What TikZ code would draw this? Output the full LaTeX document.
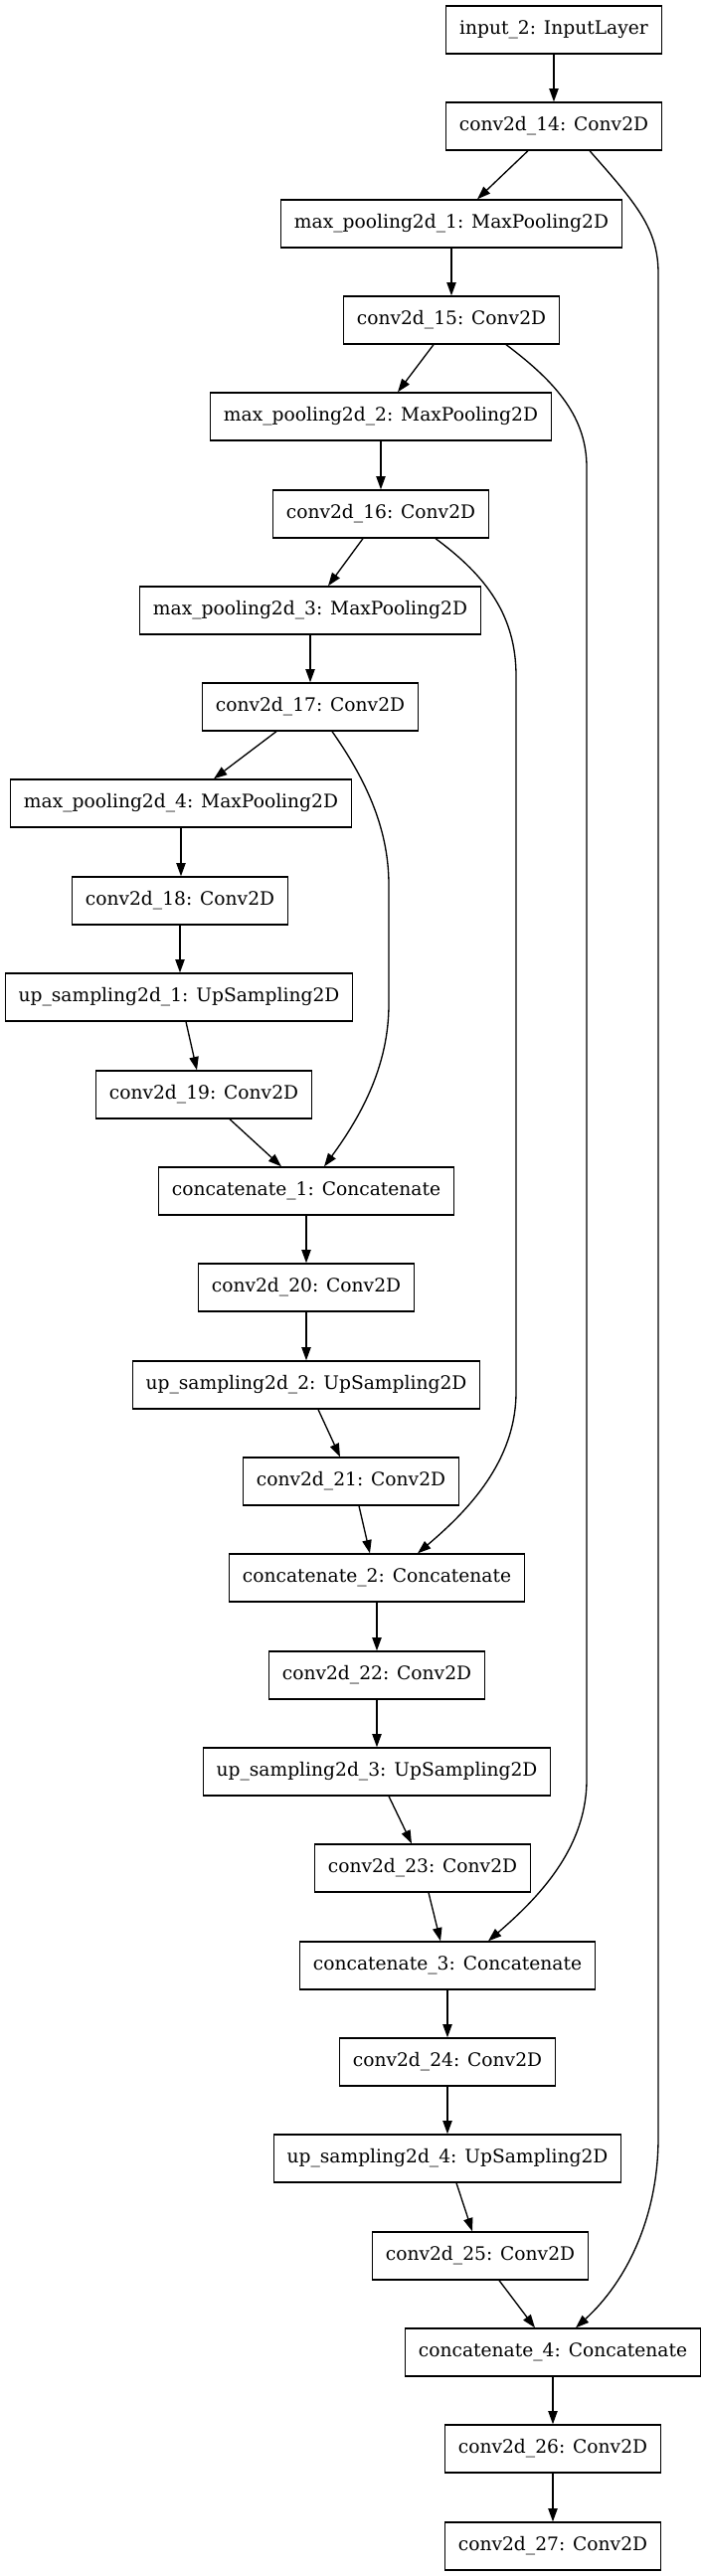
\documentclass[tikz,border=0pt]{standalone}
\usepackage{fontspec}
\setmainfont{DejaVu Serif}
\usetikzlibrary{arrows.meta,calc}

\begin{document}
\begin{tikzpicture}[x=0.75pt,y=-0.75pt,
    layer/.style={draw,line width=1pt,rectangle,minimum height=36pt,inner xsep=10pt,
      font=\fontsize{14pt}{17pt}\selectfont},
    edge/.style={line width=1pt,-{Triangle[length=10pt,width=7pt]}}]
    \useasboundingbox (0,0) rectangle (706,2591);
    % encoder
    \node[layer] (in1) at (557,30) {input\_2: InputLayer};
    \node[layer] (c14) at (557,127) {conv2d\_14: Conv2D};
    \node[layer] (mp1) at (454,225) {max\_pooling2d\_1: MaxPooling2D};
    \node[layer] (c15) at (454,322) {conv2d\_15: Conv2D};
    \node[layer] (mp2) at (383,419) {max\_pooling2d\_2: MaxPooling2D};
    \node[layer] (c16) at (383,517) {conv2d\_16: Conv2D};
    \node[layer] (mp3) at (312,614) {max\_pooling2d\_3: MaxPooling2D};
    \node[layer] (c17) at (312,711) {conv2d\_17: Conv2D};
    \node[layer] (mp4) at (182,808) {max\_pooling2d\_4: MaxPooling2D};
    \node[layer] (c18) at (181,906) {conv2d\_18: Conv2D};
    % decoder
    \node[layer] (up1) at (180,1003) {up\_sampling2d\_1: UpSampling2D};
    \node[layer] (c19) at (205,1101) {conv2d\_19: Conv2D};
    \node[layer] (cat1) at (308,1198) {concatenate\_1: Concatenate};
    \node[layer] (c20) at (308,1295) {conv2d\_20: Conv2D};
    \node[layer] (up2) at (308,1393) {up\_sampling2d\_2: UpSampling2D};
    \node[layer] (c21) at (353,1490) {conv2d\_21: Conv2D};
    \node[layer] (cat2) at (379,1587) {concatenate\_2: Concatenate};
    \node[layer] (c22) at (379,1685) {conv2d\_22: Conv2D};
    \node[layer] (up3) at (379,1782) {up\_sampling2d\_3: UpSampling2D};
    \node[layer] (c23) at (425,1879) {conv2d\_23: Conv2D};
    \node[layer] (cat3) at (450,1977) {concatenate\_3: Concatenate};
    \node[layer] (c24) at (450,2074) {conv2d\_24: Conv2D};
    \node[layer] (up4) at (450,2171) {up\_sampling2d\_4: UpSampling2D};
    \node[layer] (c25) at (483,2269) {conv2d\_25: Conv2D};
    \node[layer] (cat4) at (556,2366) {concatenate\_4: Concatenate};
    \node[layer] (c26) at (556,2463) {conv2d\_26: Conv2D};
    \node[layer] (c27) at (556,2561) {conv2d\_27: Conv2D};

    % main chain
    \draw[edge] (in1.south) -- (c14.south |- in1.south) -- (c14.north);
    \draw[edge] ($(c14.south)+(-26,0)$) -- ($(mp1.north)+(26,0)$);
    \draw[edge] (mp1.south) -- (c15.north);
    \draw[edge] ($(c15.south)+(-18,0)$) -- ($(mp2.north)+(17,0)$);
    \draw[edge] (mp2.south) -- (c16.north);
    \draw[edge] ($(c16.south)+(-18,0)$) -- ($(mp3.north)+(18,0)$);
    \draw[edge] (mp3.south) -- (c17.north);
    \draw[edge] ($(c17.south)+(-34,0)$) -- ($(mp4.north)+(33,0)$);
    \draw[edge] ($(mp4.south)+(0,0)$) -- ($(c18.north)+(1,0)$);
    \draw[edge] ($(c18.south)+(0,0)$) -- ($(up1.north)+(1,0)$);
    \draw[edge] ($(up1.south)+(7,0)$) -- ($(c19.north)+(-7,0)$);
    \draw[edge] ($(c19.south)+(26,0)$) -- ($(cat1.north)+(-25,0)$);
    \draw[edge] (cat1.south) -- (c20.north);
    \draw[edge] (c20.south) -- (up2.north);
    \draw[edge] ($(up2.south)+(12,0)$) -- ($(c21.north)+(-11,0)$);
    \draw[edge] ($(c21.south)+(8,0)$) -- ($(cat2.north)+(-7,0)$);
    \draw[edge] (cat2.south) -- (c22.north);
    \draw[edge] (c22.south) -- (up3.north);
    \draw[edge] ($(up3.south)+(12,0)$) -- ($(c23.north)+(-11,0)$);
    \draw[edge] ($(c23.south)+(6,0)$) -- ($(cat3.north)+(-7,0)$);
    \draw[edge] (cat3.south) -- (c24.north);
    \draw[edge] (c24.south) -- (up4.north);
    \draw[edge] ($(up4.south)+(9,0)$) -- ($(c25.north)+(-8,0)$);
    \draw[edge] ($(c25.south)+(19,0)$) -- ($(cat4.north)+(-18,0)$);
    \draw[edge] (cat4.south) -- (c26.north);
    \draw[edge] (c26.south) -- (c27.north);

    % skip connections
    \draw[edge] ($(c14.south)+(36,0)$) .. controls (640,205) and (662,230) .. (662,275)
        -- (662,2150) .. controls (662,2230) and (630,2295) .. ($(cat4.north)+(23,0)$);
    \draw[edge] ($(c15.south)+(55,0)$) .. controls (560,385) and (590,420) .. (590,470)
        -- (590,1790) .. controls (590,1860) and (540,1910) .. ($(cat3.north)+(41,0)$);
    \draw[edge] ($(c16.south)+(55,0)$) .. controls (490,580) and (519,620) .. (519,680)
        -- (519,1400) .. controls (519,1470) and (470,1520) .. ($(cat2.north)+(41,0)$);
    \draw[edge] ($(c17.south)+(22,0)$) .. controls (365,780) and (391,830) .. (391,890)
        -- (391,1010) .. controls (391,1070) and (365,1120) .. ($(cat1.north)+(18,0)$);
\end{tikzpicture}
\end{document}
